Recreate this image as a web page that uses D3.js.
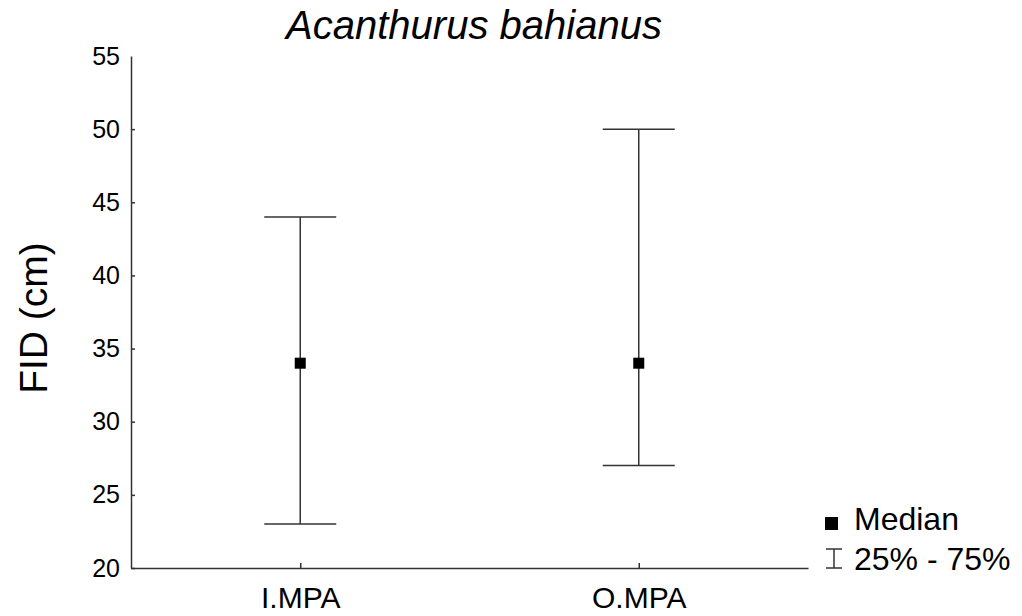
<!DOCTYPE html>
<html>
<head>
<meta charset="utf-8">
<script src="https://cdn.jsdelivr.net/npm/d3@7"></script>
<style>
  html, body { margin: 0; padding: 0; background: #fff; }
  svg { display: block; font-family: "Liberation Sans", Arial, sans-serif; }
</style>
</head>
<body>
<svg id="chart" width="1022" height="616"></svg>
<script>
// Flight initiation distance by protection level
const groups = ["I.MPA", "O.MPA"];
const medians = [34, 34];
const q25 = [23, 27];
const q75 = [44, 50];
const yTicks = [20, 25, 30, 35, 40, 45, 50, 55];

const ink = "#333";
const svg = d3.select("#chart");

const plot = { left: 131, right: 808, top: 56, bottom: 568 };

const y = d3.scaleLinear().domain([20, 55]).range([plot.bottom, plot.top]);
const x = d3.scalePoint().domain(groups).range([plot.left, plot.right]).padding(0.5);

// Y axis, ticks pointing into the plot
const yAxis = svg.append("g")
  .attr("transform", `translate(${plot.left},0)`)
  .call(d3.axisLeft(y).tickValues(yTicks).tickSizeInner(-4).tickSizeOuter(0).tickPadding(11));
yAxis.select(".domain").attr("stroke", ink).attr("stroke-width", 1.5);
yAxis.selectAll(".tick line").attr("stroke", ink).attr("stroke-width", 1.5)
  .attr("display", d => d === 55 ? "none" : null);
yAxis.selectAll(".tick text").attr("fill", "#000").style("font-size", "25px")
  .style("font-family", "'Liberation Sans', Arial, sans-serif");

// X axis
const xAxis = svg.append("g")
  .attr("transform", `translate(0,${plot.bottom})`)
  .call(d3.axisBottom(x).tickSizeInner(-5).tickSizeOuter(0).tickPadding(19));
xAxis.select(".domain").attr("stroke", ink).attr("stroke-width", 1.5);
xAxis.selectAll(".tick line").attr("stroke", ink).attr("stroke-width", 1.5);
xAxis.selectAll(".tick text").attr("fill", "#000").style("font-size", "30px")
  .style("font-family", "'Liberation Sans', Arial, sans-serif");

// Interquartile whiskers
const capHalf = 36;
const rows = groups.map((g, i) => ({ g, med: medians[i], lo: q25[i], hi: q75[i] }));
const marks = svg.append("g");
marks.selectAll(".stem").data(rows).join("line")
  .attr("x1", d => x(d.g)).attr("x2", d => x(d.g))
  .attr("y1", d => y(d.lo)).attr("y2", d => y(d.hi))
  .attr("stroke", ink).attr("stroke-width", 1.5);
marks.selectAll(".capHi").data(rows).join("line")
  .attr("x1", d => x(d.g) - capHalf).attr("x2", d => x(d.g) + capHalf)
  .attr("y1", d => y(d.hi)).attr("y2", d => y(d.hi))
  .attr("stroke", ink).attr("stroke-width", 1.5);
marks.selectAll(".capLo").data(rows).join("line")
  .attr("x1", d => x(d.g) - capHalf).attr("x2", d => x(d.g) + capHalf)
  .attr("y1", d => y(d.lo)).attr("y2", d => y(d.lo))
  .attr("stroke", ink).attr("stroke-width", 1.5);

// Median markers
const sq = 11;
marks.selectAll(".med").data(rows).join("rect")
  .attr("x", d => x(d.g) - sq / 2).attr("y", d => y(d.med) - sq / 2)
  .attr("width", sq).attr("height", sq).attr("fill", "#000");

// Title
svg.append("text")
  .attr("x", 474).attr("y", 39).attr("text-anchor", "middle")
  .style("font-size", "40px").style("font-style", "italic")
  .text("Acanthurus bahianus");

// Y axis title
svg.append("text")
  .attr("transform", "translate(47,318) rotate(-90)")
  .attr("text-anchor", "middle")
  .style("font-size", "39px")
  .text("FID (cm)");

// Legend
const lg = svg.append("g");
lg.append("rect").attr("x", 825).attr("y", 517).attr("width", 13).attr("height", 13).attr("fill", "#000");
lg.append("text").attr("x", 854).attr("y", 530).style("font-size", "32px").text("Median");
lg.append("line").attr("x1", 834).attr("x2", 834).attr("y1", 549).attr("y2", 568).attr("stroke", ink).attr("stroke-width", 1.5);
lg.append("line").attr("x1", 826).attr("x2", 842).attr("y1", 549).attr("y2", 549).attr("stroke", ink).attr("stroke-width", 1.5);
lg.append("line").attr("x1", 826).attr("x2", 842).attr("y1", 568).attr("y2", 568).attr("stroke", ink).attr("stroke-width", 1.5);
lg.append("text").attr("x", 854).attr("y", 570).style("font-size", "32px").text("25% - 75%");
</script>
</body>
</html>
